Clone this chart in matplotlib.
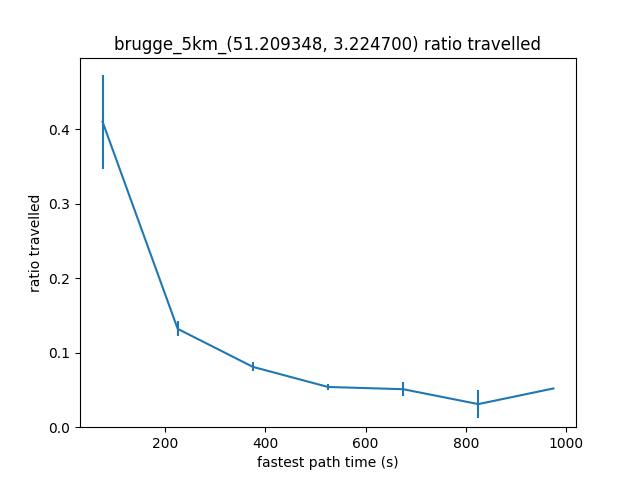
import matplotlib
matplotlib.use("Agg")
import matplotlib.pyplot as plt

x = [75, 225, 375, 525, 675, 825, 975]
y = [0.410, 0.132, 0.081, 0.054, 0.051, 0.031, 0.052]
err = [0.063, 0.010, 0.006, 0.004, 0.009, 0.019, 0.0]

fig, ax = plt.subplots(figsize=(6.4, 4.8), dpi=100)
ax.errorbar(x, y, yerr=err)
ax.set_ylim(bottom=0)
ax.set_title("brugge_5km_(51.209348, 3.224700) ratio travelled")
ax.set_xlabel("fastest path time (s)")
ax.set_ylabel("ratio travelled")
fig.savefig("out.png")
